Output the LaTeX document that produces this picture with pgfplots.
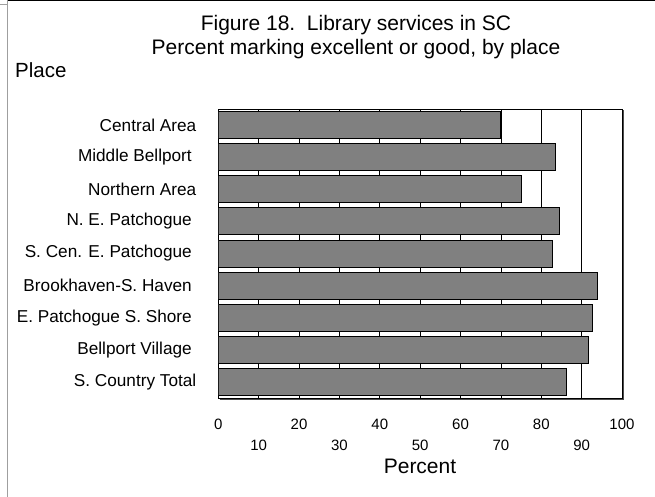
\documentclass[border=0pt]{standalone}
\usepackage{fontspec}
\setmainfont{Liberation Sans}
\usepackage{pgfplots}
\pgfplotsset{compat=1.18}

% Percent marking library services excellent or good, by place
\pgfplotstableread{
idx value
0 70.0
1 83.6
2 75.1
3 84.4
4 82.8
5 94.0
6 92.6
7 91.7
8 86.2
}\librarydata

\definecolor{barfill}{RGB}{128,128,128}
\newcommand{\tsp}{\hspace*{4.5pt}}

\begin{document}
\begin{tikzpicture}[x=1pt,y=1pt]
\useasboundingbox (0,0) rectangle (655,497);
% page border
\draw[gray!75, line width=1.2pt] (7.5,0) -- (7.5,497);
\draw[black, line width=1.6pt] (7.5,496.3) -- (655,496.3);
\draw[gray!75, line width=1pt] (0,492.5) -- (7.5,492.5);
% titles
\node[anchor=base, font=\fontsize{21}{24}\selectfont, inner sep=0] at (356,466) {Figure 18.\ \ Library services in SC};
\node[anchor=base, font=\fontsize{21}{24}\selectfont, inner sep=0] at (356,442.7) {Percent marking excellent or good, by place};
\node[anchor=base west, font=\fontsize{20.5}{24}\selectfont, inner sep=0] at (15,419) {Place};
\node[anchor=base, font=\fontsize{21}{24}\selectfont, inner sep=0] at (420,23) {Percent};
% plot frame shadow
\draw[gray!60!black, line width=1.3pt] (219.5,97.7) -- (623.4,97.7) -- (623.4,387);
\begin{axis}[
  at={(218.3pt,99pt)}, anchor=south west,
  scale only axis, width=403.7pt, height=289pt,
  xmin=0, xmax=100, ymin=-0.5, ymax=8.5, y dir=reverse,
  xbar, bar width=0.84,
  axis line style={black, line width=1pt},
  xtick={0,20,...,100},
  extra x ticks={10,30,...,90},
  extra x tick style={grid=major, xticklabel style={yshift=-21.7pt}},
  xmajorgrids=true,
  major grid style={black, line width=0.6pt},
  major tick length=0pt,
  /pgf/number format/assume math mode=true,
  xticklabel style={font=\fontsize{15}{18}\selectfont, yshift=-17pt},
  ytick={0,...,8},
  yticklabels={Central Area, Middle Bellport\tsp, Northern Area, N. E. Patchogue\tsp, S. Cen. E. Patchogue\tsp, Brookhaven-S. Haven\tsp, E. Patchogue S. Shore\tsp, Bellport Village\tsp, S. Country Total},
  yticklabel style={font=\fontsize{17.2}{20}\selectfont, xshift=-18.5pt},
]
\addplot[fill=barfill, draw=black, line width=0.9pt] table[x=value, y=idx] {\librarydata};
\end{axis}
\end{tikzpicture}
\end{document}
